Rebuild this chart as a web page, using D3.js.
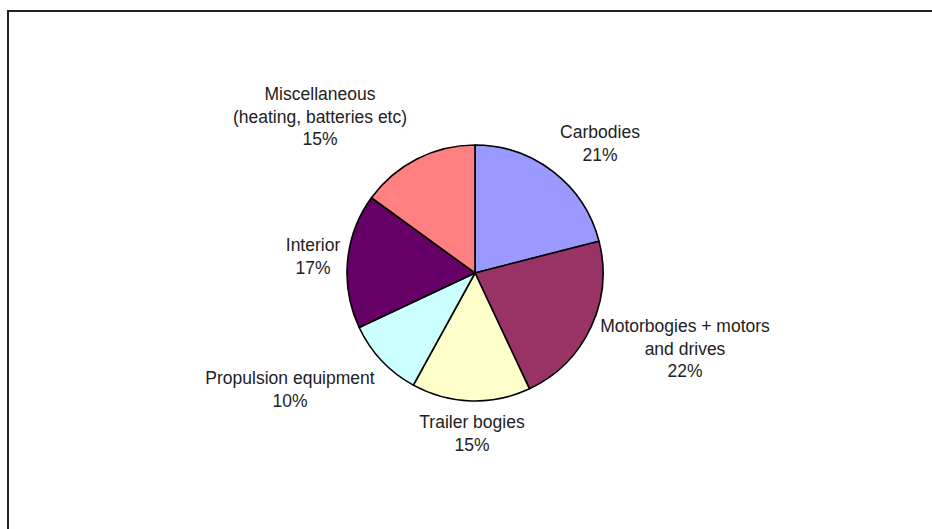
<!DOCTYPE html>
<html>
<head>
<meta charset="utf-8">
<script src="https://cdn.jsdelivr.net/npm/d3@7"></script>
<style>
  html, body { margin: 0; padding: 0; background: #fff; }
  svg { display: block; }
</style>
</head>
<body>
<svg id="chart" width="932" height="529"></svg>
<script>
const categories = ["Carbodies", "Motorbogies + motors and drives", "Trailer bogies", "Propulsion equipment", "Interior", "Miscellaneous (heating, batteries etc)"];
const values = [21, 22, 15, 10, 17, 15];
const colors = ["#9999FF", "#993366", "#FFFFCC", "#CCFFFF", "#660066", "#FF8080"];
const labelLines = [
  ["Carbodies", "21%"],
  ["Motorbogies + motors", "and drives", "22%"],
  ["Trailer bogies", "15%"],
  ["Propulsion equipment", "10%"],
  ["Interior", "17%"],
  ["Miscellaneous", "(heating, batteries etc)", "15%"]
];
// label anchor positions (centre x, first-line centre y)
const labelPos = [[600, 132], [685, 326], [472, 422], [290, 378], [313, 245], [320, 94]];

const svg = d3.select("#chart");

// frame
svg.append("rect")
  .attr("x", 8).attr("y", 11)
  .attr("width", 940).attr("height", 540)
  .attr("fill", "none")
  .attr("stroke", "#222")
  .attr("stroke-width", 2);

const cx = 475, cy = 273, r = 128;
const pie = d3.pie().sort(null).value(d => d)(values);
const arc = d3.arc().innerRadius(0).outerRadius(r);

const g = svg.append("g").attr("transform", `translate(${cx},${cy})`);
g.selectAll("path")
  .data(pie)
  .join("path")
  .attr("d", arc)
  .attr("fill", (d, i) => colors[i])
  .attr("stroke", "#000")
  .attr("stroke-width", 1.6)
  .attr("stroke-linejoin", "round");

const lh = 22.5;
const lbl = svg.append("g")
  .attr("font-family", "'Liberation Sans', Arial, sans-serif")
  .attr("font-size", 17.5)
  .attr("fill", "#222")
  .attr("text-anchor", "middle");

labelLines.forEach((lines, i) => {
  const t = lbl.append("text")
    .attr("x", labelPos[i][0])
    .attr("y", labelPos[i][1])
    .attr("dominant-baseline", "central");
  lines.forEach((s, j) => {
    t.append("tspan")
      .attr("x", labelPos[i][0])
      .attr("y", labelPos[i][1] + j * lh)
      .text(s);
  });
});
</script>
</body>
</html>
